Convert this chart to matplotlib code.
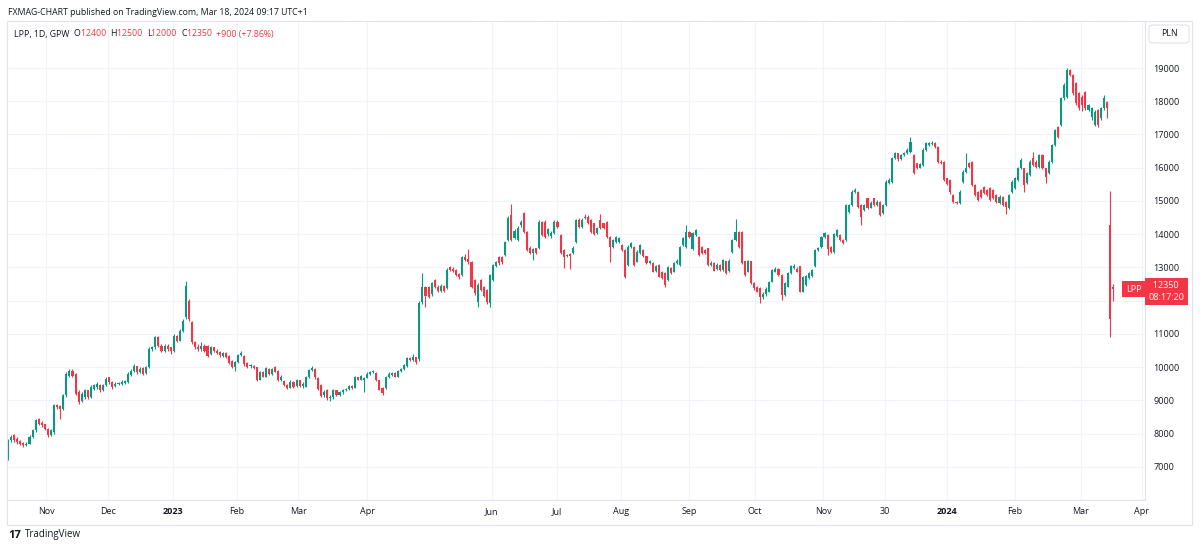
import matplotlib.pyplot as plt
from matplotlib.patches import Rectangle, FancyBboxPatch
from matplotlib.transforms import blended_transform_factory

# LPP daily candles, Oct 2022 - Mar 18 2024 (PLN)
opens = [
    7550, 7800, 7950, 7850, 7780, 7720, 7650, 7700, 7900, 8100,
    8450, 8320, 8280, 8150, 7950, 8050, 8850, 8820, 8750, 9150,
    9750, 9900, 9800, 9250, 8980, 9100, 9300, 9100, 9350, 9400,
    9450, 9300, 9450, 9700, 9550, 9420, 9480, 9500, 9530, 9550,
    9780, 9900, 10030, 9850, 9980, 9820, 10000, 10550, 10600, 10900,
    10650, 10500, 10650, 10600, 10480, 10950, 10800, 11100, 11500, 12000,
    11350, 10750, 10600, 10550, 10650, 10650, 10400, 10600, 10500, 10450,
    10350, 10420, 10350, 10200, 10000, 10150, 10370, 10350, 10120, 10030,
    10050, 10000, 9620, 9850, 9720, 9950, 9800, 10020, 9900, 9620,
    9590, 9460, 9380, 9550, 9420, 9600, 9420, 9410, 9700, 9930,
    9950, 9680, 9460, 9150, 9310, 9060, 9100, 9300, 9150, 9250,
    9300, 9350, 9420, 9380, 9700, 9620, 9600, 9680, 9800, 9850,
    9830, 9600, 9360, 9360, 9700, 9780, 9830, 9720, 9880, 9950,
    10050, 10270, 10220, 10300, 10250, 11970, 12400, 12420, 12200, 12620,
    12420, 12300, 12450, 12370, 13020, 12950, 12920, 12800, 12770, 13320,
    13250, 13170, 12620, 11970, 12620, 12400, 12320, 11920, 12620, 13050,
    13320, 13300, 13370, 13830, 14580, 13900, 13830, 14270, 14630, 14080,
    13600, 13450, 13580, 13580, 14380, 14380, 14000, 13950, 14030, 14380,
    13980, 13530, 13350, 13420, 13430, 13780, 14430, 14230, 14530, 14530,
    14430, 14330, 14030, 14430, 14330, 14380, 13930, 13630, 13780, 13780,
    13680, 13530, 13070, 13630, 13630, 13170, 13430, 13530, 13330, 13130,
    13130, 12880, 13080, 12870, 12820, 12620, 12970, 12870, 13120, 13070,
    13680, 13630, 14080, 13550, 13980, 13930, 13630, 13530, 13580, 13080,
    13130, 12950, 13080, 12930, 13180, 12880, 13480, 13830, 14080, 14080,
    13180, 12870, 13180, 12520, 12420, 12370, 12120, 12200, 12270, 12570,
    12870, 12950, 12770, 12170, 12420, 12820, 12980, 12950, 13030, 12270,
    12480, 12680, 12730, 13030, 13530, 13630, 13930, 13970, 13630, 13480,
    13950, 13970, 13830, 13830, 14680, 14880, 15280, 15280, 14880, 14730,
    15080, 14800, 15080, 14880, 14980, 14630, 14880, 15530, 15580, 16280,
    16430, 16250, 16380, 16430, 16480, 16380, 16130, 16000, 16080, 16530,
    16680, 16700, 16750, 16630, 16180, 16180, 15680, 15630, 15180, 14980,
    14930, 15580, 15880, 16130, 16180, 15480, 15280, 15330, 15430, 15330,
    15380, 15330, 15180, 14930, 15130, 14980, 14780, 15280, 15380, 15630,
    15980, 15980, 15530, 15780, 16280, 16180, 16030, 16380, 15980, 15830,
    16180, 16680, 17230, 17280, 18090, 18140, 18940, 18790, 18540, 18240,
    18140, 18290, 17740, 17540, 17280, 17740, 17490, 17790, 17990, 14280,
    12400,
]
highs = [
    7850, 7950, 8000, 7900, 7820, 7760, 7750, 7950, 8150, 8450,
    8480, 8380, 8300, 8180, 8150, 8900, 8900, 8850, 9200, 9850,
    9950, 9950, 9820, 9300, 9250, 9350, 9320, 9450, 9500, 9550,
    9480, 9500, 9700, 9720, 9580, 9550, 9560, 9600, 9620, 9850,
    9950, 10100, 10050, 10000, 10000, 10050, 10600, 10650, 10950, 10930,
    10700, 10700, 10700, 10620, 11000, 10980, 11150, 11450, 12600, 12050,
    11400, 10800, 10700, 10750, 10700, 10680, 10650, 10620, 10550, 10480,
    10450, 10450, 10380, 10230, 10200, 10400, 10500, 10380, 10150, 10100,
    10080, 10020, 9900, 9880, 10000, 9980, 9980, 10050, 9920, 9760,
    9620, 9500, 9620, 9580, 9650, 9620, 9550, 9740, 9960, 10050,
    9980, 9700, 9480, 9300, 9330, 9150, 9350, 9320, 9280, 9330,
    9380, 9450, 9450, 9750, 9720, 9780, 9720, 9850, 9880, 9920,
    9860, 9620, 9400, 9730, 9850, 9860, 9850, 9920, 9980, 10100,
    10300, 10300, 10400, 10320, 12000, 12820, 12450, 12450, 12560, 12650,
    12480, 12500, 12480, 12980, 13050, 13000, 12950, 12830, 13350, 13400,
    13550, 13200, 12650, 12520, 12650, 12450, 12350, 12800, 13100, 13200,
    13350, 13350, 13800, 14550, 14910, 14150, 14250, 14420, 14680, 14100,
    13650, 13600, 13600, 14420, 14400, 14420, 14200, 14100, 14420, 14420,
    14000, 13550, 13420, 13450, 13650, 14460, 14480, 14480, 14600, 14580,
    14450, 14350, 14220, 14600, 14350, 14400, 13950, 13850, 13960, 13920,
    13700, 13560, 13680, 13780, 13650, 13520, 13720, 13550, 13350, 13220,
    13150, 13080, 13100, 12900, 12850, 13050, 13000, 13150, 13250, 13660,
    13920, 14280, 14100, 14060, 14170, 13950, 13650, 13560, 13600, 13200,
    13150, 13120, 13100, 13260, 13200, 13250, 13870, 14450, 14100, 14100,
    13200, 13220, 13200, 12550, 12450, 12400, 12250, 12400, 12600, 12950,
    13000, 12980, 12800, 12550, 12850, 13080, 13100, 13000, 13050, 12750,
    12760, 12860, 12960, 13560, 13620, 13960, 14060, 14000, 13660, 14050,
    14170, 14000, 13850, 14920, 14920, 15320, 15380, 15300, 14900, 14920,
    15100, 15000, 15100, 15020, 15000, 14920, 15620, 15680, 16320, 16480,
    16450, 16420, 16480, 16580, 16910, 16400, 16150, 16150, 16580, 16780,
    16780, 16800, 16780, 16660, 16220, 16200, 15700, 15650, 15200, 15000,
    15320, 15920, 16430, 16170, 16200, 15500, 15300, 15360, 15460, 15360,
    15420, 15360, 15200, 15170, 15150, 15000, 15220, 15620, 15720, 16020,
    16280, 16000, 15870, 16220, 16480, 16220, 16420, 16400, 16000, 16220,
    16720, 17180, 17260, 18130, 18550, 19000, 18980, 18820, 18580, 18280,
    18180, 18320, 17930, 17830, 17730, 17780, 17830, 18190, 18020, 15300,
    12500,
]
lows = [
    7200, 7750, 7760, 7700, 7650, 7600, 7620, 7680, 7880, 8050,
    8250, 8200, 8100, 7900, 7920, 8000, 8750, 8450, 8720, 9100,
    9700, 9700, 9150, 8900, 8950, 9050, 9050, 9080, 9300, 9350,
    9250, 9280, 9420, 9500, 9350, 9400, 9450, 9470, 9500, 9530,
    9750, 9870, 9800, 9820, 9780, 9800, 9980, 10500, 10550, 10600,
    10450, 10470, 10500, 10400, 10450, 10750, 10780, 11050, 11450, 11400,
    10700, 10550, 10500, 10500, 10450, 10300, 10380, 10450, 10400, 10300,
    10320, 10280, 10100, 9980, 9900, 10130, 10350, 10050, 9980, 9980,
    9950, 9580, 9600, 9700, 9700, 9780, 9770, 9850, 9580, 9580,
    9420, 9350, 9360, 9380, 9400, 9400, 9380, 9400, 9680, 9900,
    9650, 9300, 9100, 9100, 9020, 8980, 9050, 9120, 9130, 9200,
    9270, 9320, 9350, 9360, 9600, 9600, 9250, 9660, 9780, 9820,
    9580, 9300, 9150, 9330, 9680, 9750, 9700, 9700, 9850, 9920,
    10020, 10180, 10200, 10100, 10200, 11900, 11800, 12080, 12150, 12380,
    12250, 12250, 12250, 12350, 12880, 12850, 12740, 12650, 12740, 13180,
    13100, 12380, 12180, 11820, 12280, 12100, 11900, 11820, 12600, 13000,
    13080, 13100, 13350, 13800, 13800, 13850, 13800, 14230, 14050, 13500,
    13400, 13220, 13400, 13550, 13950, 13900, 13950, 13900, 14000, 14200,
    13400, 12970, 13300, 12950, 13400, 13750, 14200, 14200, 14450, 14300,
    14050, 13980, 14000, 14150, 14150, 13900, 13170, 13600, 13750, 13750,
    13500, 12680, 13050, 13600, 13050, 13150, 13400, 13300, 13100, 13100,
    12850, 12850, 12700, 12650, 12400, 12600, 12800, 12850, 13100, 13050,
    13650, 13600, 13900, 13520, 13950, 13350, 13400, 13420, 13050, 13050,
    12880, 12930, 12900, 12900, 12800, 12850, 13450, 13800, 13600, 13100,
    12750, 12850, 12500, 12330, 12250, 11920, 12050, 12150, 12250, 12550,
    12850, 12750, 12020, 12150, 12400, 12800, 12950, 12850, 12250, 12250,
    12450, 12650, 12700, 13000, 13500, 13600, 13900, 13380, 13450, 13450,
    13920, 13800, 13700, 13800, 14650, 14850, 15250, 14800, 14270, 14700,
    14750, 14780, 14850, 14850, 14550, 14600, 14850, 15500, 15550, 16250,
    16200, 16230, 16350, 16400, 16450, 15800, 15950, 15980, 16050, 16500,
    16640, 16680, 16600, 16150, 16100, 15600, 15480, 15200, 14950, 14900,
    14900, 15550, 15850, 15980, 15450, 15150, 15000, 15100, 15200, 15150,
    15000, 15050, 14950, 14900, 14850, 14600, 14750, 15250, 15350, 15600,
    15950, 15280, 15500, 15750, 16050, 16000, 16000, 15950, 15530, 15800,
    16150, 16650, 16900, 17250, 18050, 18100, 18750, 18200, 17900, 17750,
    17700, 17750, 17700, 17450, 17250, 17220, 17450, 17750, 17490, 10920,
    12000,
]
closes = [
    7800, 7900, 7800, 7750, 7700, 7650, 7700, 7900, 8100, 8400,
    8300, 8250, 8150, 7950, 8100, 8850, 8800, 8750, 9150, 9800,
    9900, 9750, 9200, 8950, 9200, 9300, 9100, 9400, 9450, 9500,
    9300, 9450, 9650, 9550, 9400, 9500, 9520, 9550, 9580, 9800,
    9900, 10050, 9850, 9950, 9800, 10000, 10550, 10600, 10900, 10650,
    10500, 10650, 10550, 10480, 10950, 10800, 11100, 11400, 12450, 11450,
    10750, 10600, 10550, 10650, 10500, 10350, 10600, 10500, 10430, 10380,
    10420, 10300, 10120, 10020, 10150, 10370, 10420, 10100, 10020, 10050,
    9980, 9620, 9870, 9720, 9970, 9800, 9950, 9870, 9620, 9720,
    9460, 9380, 9560, 9400, 9620, 9420, 9500, 9710, 9930, 9980,
    9700, 9350, 9120, 9250, 9060, 9100, 9300, 9150, 9250, 9300,
    9350, 9420, 9380, 9700, 9620, 9740, 9680, 9800, 9850, 9880,
    9600, 9320, 9220, 9700, 9800, 9820, 9720, 9880, 9950, 10060,
    10270, 10220, 10300, 10150, 11920, 12420, 12150, 12120, 12520, 12420,
    12300, 12450, 12300, 12920, 12920, 12900, 12770, 12720, 13320, 13220,
    13150, 12420, 12220, 12470, 12320, 12150, 11970, 12770, 13070, 13150,
    13120, 13150, 13770, 14480, 13830, 14100, 14180, 14380, 14080, 13530,
    13450, 13550, 13450, 14380, 13980, 13930, 14150, 14050, 14380, 14230,
    13430, 13320, 13380, 13350, 13600, 14430, 14230, 14430, 14480, 14330,
    14080, 14000, 14180, 14180, 14180, 13930, 13630, 13830, 13930, 13880,
    13530, 12720, 13630, 13730, 13070, 13480, 13680, 13330, 13130, 13180,
    12870, 13030, 12720, 12670, 12470, 13020, 12830, 13120, 13200, 13630,
    13880, 14080, 13930, 14030, 14130, 13380, 13430, 13450, 13070, 13130,
    12900, 13080, 12930, 13230, 12830, 13200, 13830, 14080, 13630, 13130,
    12770, 13180, 12520, 12370, 12270, 12120, 12200, 12350, 12570, 12920,
    12950, 12770, 12170, 12520, 12820, 13030, 13050, 12870, 12270, 12720,
    12730, 12830, 12930, 13530, 13580, 13930, 14030, 13570, 13480, 14000,
    14130, 13830, 13730, 14880, 14880, 15280, 15330, 14830, 14530, 14880,
    14780, 14950, 14880, 14980, 14580, 14880, 15580, 15630, 16280, 16430,
    16250, 16380, 16430, 16530, 16780, 15830, 16000, 16100, 16530, 16730,
    16730, 16750, 16630, 16180, 16130, 15630, 15500, 15280, 14980, 14930,
    15280, 15880, 15980, 16030, 15480, 15180, 15030, 15130, 15230, 15180,
    15030, 15080, 14980, 15130, 14880, 14830, 15180, 15580, 15680, 15980,
    16230, 15480, 15830, 16180, 16080, 16030, 16380, 15980, 15730, 16180,
    16680, 17130, 16930, 18090, 18490, 18940, 18790, 18240, 17940, 17790,
    17890, 17790, 17890, 17790, 17690, 17290, 17790, 18090, 17790, 11450,
    12350,
]

month_ticks = [12.4, 32.6, 53.7, 74.6, 94.5, 117, 157.6, 178.8, 199.7,
               221.8, 243.3, 265.5, 285.7, 305.9, 328, 349.5, 369.4]
month_labels = ["Nov", "Dec", "2023", "Feb", "Mar", "Apr", "Jun", "Jul", "Aug",
                "Sep", "Oct", "Nov", "30", "2024", "Feb", "Mar", "Apr"]
price_ticks = list(range(7000, 19001, 1000))

UP = "#089981"
DOWN = "#f23645"
TXT = "#131722"
GRID = "#f0f3fa"
plt.rcParams["font.family"] = ["Open Sans", "DejaVu Sans"]

W, H = 1200, 548
fig = plt.figure(figsize=(W / 100, H / 100), dpi=100)


def fx(px):
    return px / W


def fy(py):
    return 1 - py / H


ax = fig.add_axes([fx(7), fy(500), fx(1145 - 7), (500 - 22) / H])

idx = list(range(len(closes)))
colors = [UP if c >= o else DOWN for o, c in zip(opens, closes)]
bottoms = [min(o, c) for o, c in zip(opens, closes)]
heights = [max(abs(c - o), 25) for o, c in zip(opens, closes)]

ax.vlines(idx, lows, highs, colors=colors, linewidth=0.8, zorder=2)
ax.bar(idx, heights, bottom=bottoms, width=0.68, color=colors,
       linewidth=0, zorder=3)

ax.set_xlim(-0.33, 370.4)
ax.set_ylim(6005, 20384)

# the 12000 label sits under the last-price tag, so it is left blank
ax.set_yticks(price_ticks)
ax.set_yticklabels(["" if abs(p - closes[-1]) < 500 else str(p) for p in price_ticks])
ax.yaxis.tick_right()
ax.set_xticks(month_ticks)
ax.set_xticklabels(month_labels)
ax.tick_params(axis="both", length=0, labelsize=6.5, colors=TXT)
ax.tick_params(axis="y", pad=6)
ax.tick_params(axis="x", pad=5)
for lab in ax.get_xticklabels():
    if lab.get_text() in ("2023", "2024"):
        lab.set_fontweight("bold")

ax.grid(True, color=GRID, linewidth=0.8, zorder=0)
ax.set_axisbelow(True)
for side, sp in ax.spines.items():
    sp.set_color("#e0e3eb")
    sp.set_linewidth(0.8)
    if side in ("left", "top"):
        sp.set_visible(False)

# outer frame of the chart
fig.add_artist(Rectangle((fx(7), fy(525)), fx(1192 - 7), (525 - 21) / H,
                         transform=fig.transFigure, fill=False,
                         edgecolor="#e0e3eb", linewidth=0.8))

# last price labels
trans = blended_transform_factory(ax.transAxes, ax.transData)
ax.annotate("LPP", xy=(1.0, closes[-1]), xycoords=trans,
            xytext=(-2.5, 0), textcoords="offset points", ha="right", va="center",
            color="white", fontsize=6.5, zorder=6, annotation_clip=False,
            bbox=dict(boxstyle="square,pad=0.4", fc=DOWN, ec="none"))
ax.annotate(f"  {closes[-1]}\n08:17:20", xy=(1.0, closes[-1]), xycoords=trans,
            xytext=(2.5, 5.6), textcoords="offset points", ha="left", va="top",
            color="white", fontsize=6.5, linespacing=1.35, zorder=6,
            annotation_clip=False,
            bbox=dict(boxstyle="square,pad=0.35", fc=DOWN, ec="none"))

# header
fig.text(fx(8), fy(12.5), "FXMAG-CHART published on TradingView.com, Mar 18, 2024 09:17 UTC+1",
         fontsize=6.3, color=TXT, va="center")

renderer = fig.canvas.get_renderer()
legend_parts = [("LPP, 1D, GPW  ", TXT), ("O", TXT), ("12400  ", DOWN),
                ("H", TXT), ("12500  ", DOWN), ("L", TXT), ("12000  ", DOWN),
                ("C", TXT), ("12350  ", DOWN), ("+900 (+7.86%)", DOWN)]
x0 = fx(14)
for txt, col in legend_parts:
    t = fig.text(x0, fy(34), txt, fontsize=6.3, color=col, va="center")
    bb = t.get_window_extent(renderer=renderer)
    x0 += bb.width / W

# currency button
fig.add_artist(FancyBboxPatch((fx(1149), fy(43)), fx(40), (43 - 25) / H,
                              boxstyle="round,pad=0,rounding_size=0.004",
                              transform=fig.transFigure, fc="white",
                              ec="#e0e3eb", linewidth=0.8))
fig.text(fx(1169), fy(34), "PLN", fontsize=6.3, color=TXT, ha="center", va="center")

# footer logo
fig.text(fx(8), fy(535), "17", fontsize=8, fontweight="bold", color=TXT, va="center")
fig.text(fx(25), fy(535), "TradingView", fontsize=7, color=TXT, va="center")

fig.savefig("out.png", dpi=100, facecolor="white")
